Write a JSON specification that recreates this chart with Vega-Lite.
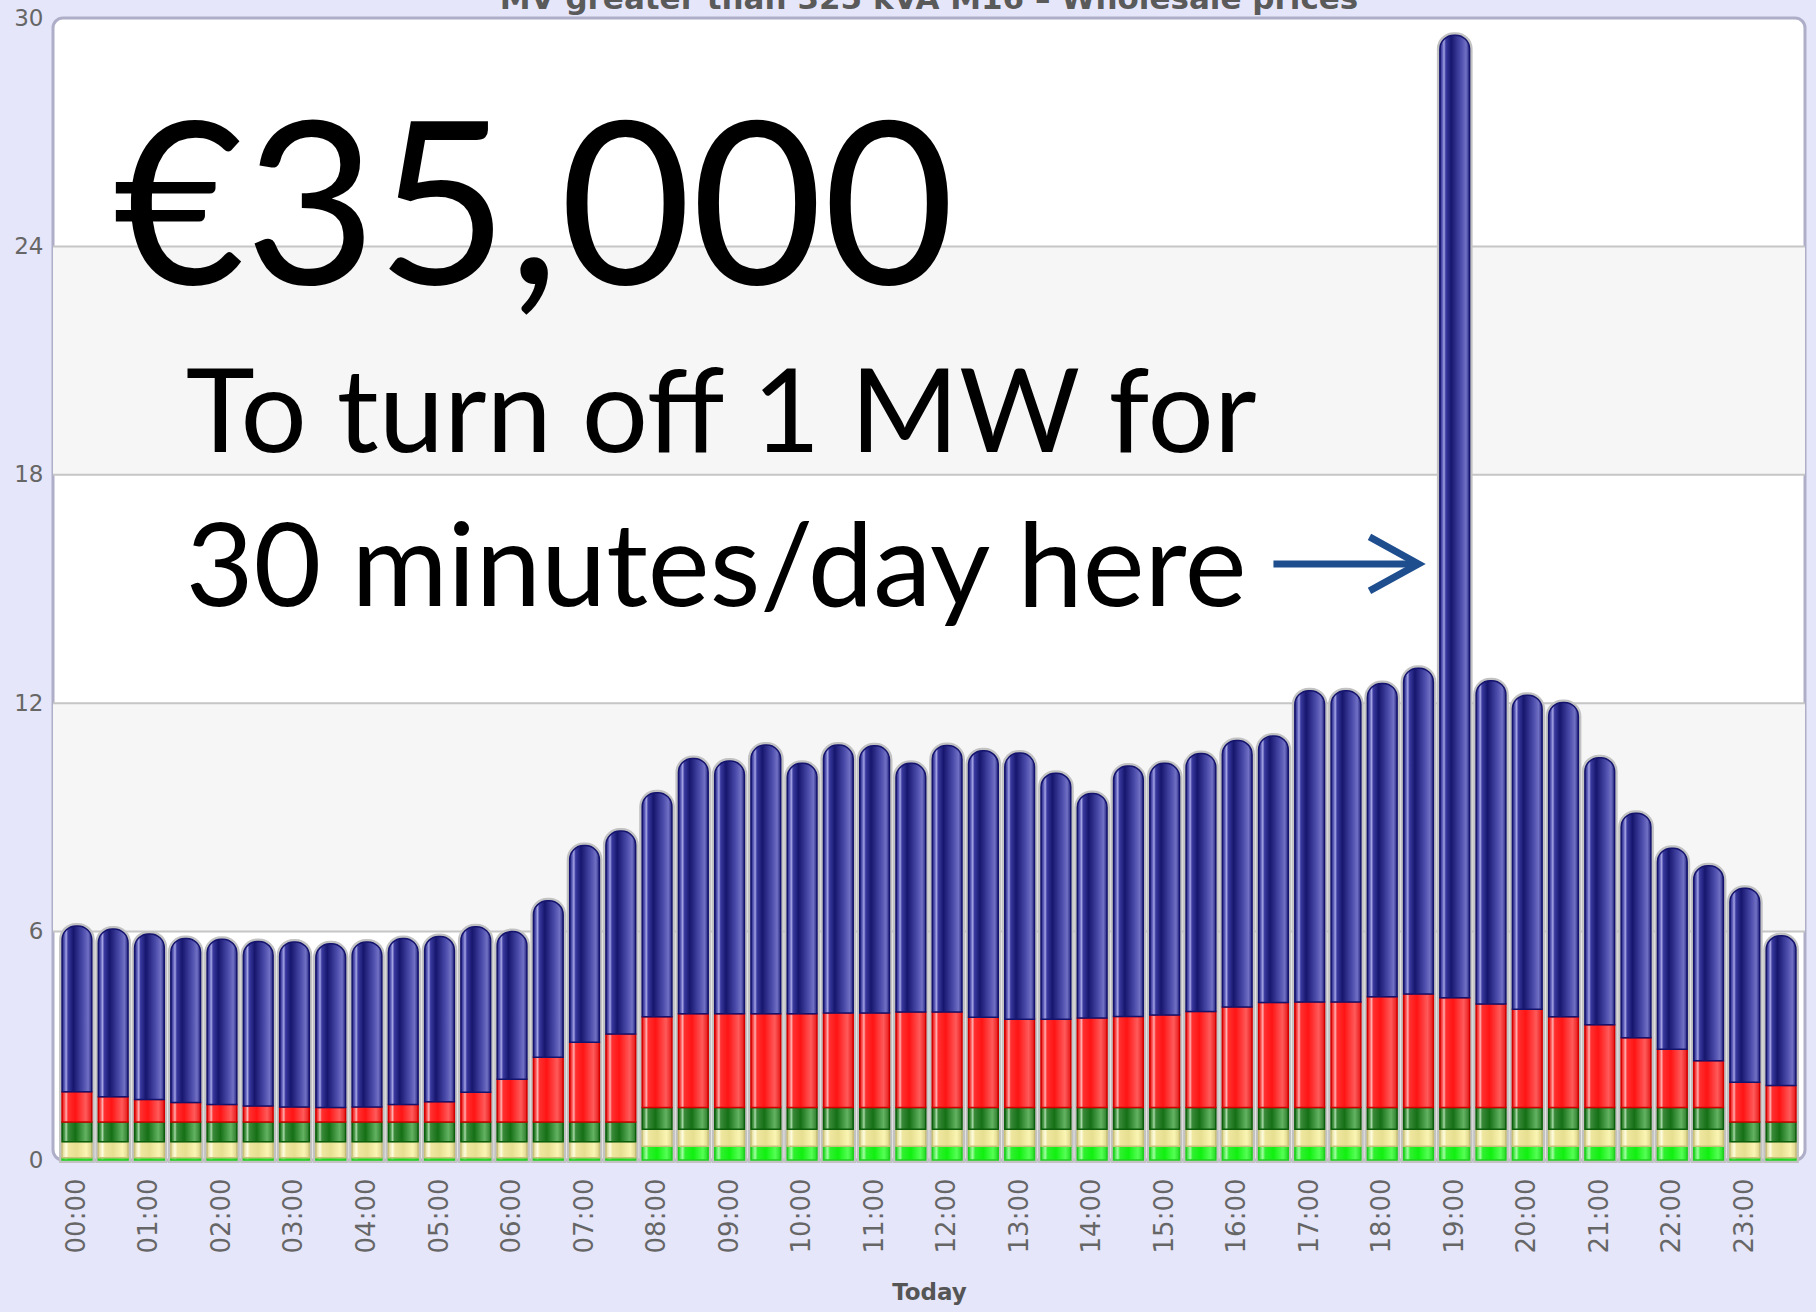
{
  "$schema": "https://vega.github.io/schema/vega-lite/v6.json",
  "autosize": {"type": "none"},
  "padding": {"left": 53, "top": 18, "right": 11, "bottom": 152},
  "width": 1752,
  "height": 1142,
  "background": "#e6e6fa",
  "config": {
    "view": {"fill": "white", "stroke": "#aeaec8", "strokeWidth": 3, "cornerRadius": 10},
    "axisX": {"labelAngle": -90, "labelFont": "DejaVu Sans", "labelFontSize": 26, "labelColor": "#666666", "labelPadding": 18, "ticks": false, "domain": false, "grid": false, "titleFont": "DejaVu Sans", "titleFontSize": 23, "titleFontWeight": "bold", "titleColor": "#555555", "titlePadding": 29},
    "axisY": {"labelFont": "DejaVu Sans", "labelFontSize": 23, "labelColor": "#666666", "labelPadding": 10, "ticks": false, "domain": false, "grid": false, "labelOverlap": false}
  },
  "datasets": {
    "bands": [{"lo": 6, "hi": 12}, {"lo": 18, "hi": 24}],
    "prices": [
      {"t": "00:00", "tier1": 0.06, "tier2": 0.42, "tier3": 0.52, "tier4": 0.79, "tier5": 4.36},
      {"t": "00:30", "tier1": 0.06, "tier2": 0.42, "tier3": 0.52, "tier4": 0.66, "tier5": 4.41},
      {"t": "01:00", "tier1": 0.06, "tier2": 0.42, "tier3": 0.52, "tier4": 0.59, "tier5": 4.35},
      {"t": "01:30", "tier1": 0.06, "tier2": 0.42, "tier3": 0.52, "tier4": 0.51, "tier5": 4.31},
      {"t": "02:00", "tier1": 0.06, "tier2": 0.42, "tier3": 0.52, "tier4": 0.46, "tier5": 4.34},
      {"t": "02:30", "tier1": 0.06, "tier2": 0.42, "tier3": 0.52, "tier4": 0.42, "tier5": 4.32},
      {"t": "03:00", "tier1": 0.06, "tier2": 0.42, "tier3": 0.52, "tier4": 0.39, "tier5": 4.34},
      {"t": "03:30", "tier1": 0.06, "tier2": 0.42, "tier3": 0.52, "tier4": 0.38, "tier5": 4.30},
      {"t": "04:00", "tier1": 0.06, "tier2": 0.42, "tier3": 0.52, "tier4": 0.39, "tier5": 4.34},
      {"t": "04:30", "tier1": 0.06, "tier2": 0.42, "tier3": 0.52, "tier4": 0.46, "tier5": 4.36},
      {"t": "05:00", "tier1": 0.06, "tier2": 0.42, "tier3": 0.52, "tier4": 0.53, "tier5": 4.34},
      {"t": "05:30", "tier1": 0.06, "tier2": 0.42, "tier3": 0.52, "tier4": 0.78, "tier5": 4.35},
      {"t": "06:00", "tier1": 0.06, "tier2": 0.42, "tier3": 0.52, "tier4": 1.12, "tier5": 3.88},
      {"t": "06:30", "tier1": 0.06, "tier2": 0.42, "tier3": 0.52, "tier4": 1.70, "tier5": 4.11},
      {"t": "07:00", "tier1": 0.06, "tier2": 0.42, "tier3": 0.52, "tier4": 2.09, "tier5": 5.17},
      {"t": "07:30", "tier1": 0.06, "tier2": 0.42, "tier3": 0.52, "tier4": 2.31, "tier5": 5.33},
      {"t": "08:00", "tier1": 0.36, "tier2": 0.45, "tier3": 0.57, "tier4": 2.38, "tier5": 5.89},
      {"t": "08:30", "tier1": 0.36, "tier2": 0.45, "tier3": 0.57, "tier4": 2.46, "tier5": 6.71},
      {"t": "09:00", "tier1": 0.36, "tier2": 0.45, "tier3": 0.57, "tier4": 2.46, "tier5": 6.64},
      {"t": "09:30", "tier1": 0.36, "tier2": 0.45, "tier3": 0.57, "tier4": 2.46, "tier5": 7.06},
      {"t": "10:00", "tier1": 0.36, "tier2": 0.45, "tier3": 0.57, "tier4": 2.46, "tier5": 6.58},
      {"t": "10:30", "tier1": 0.36, "tier2": 0.45, "tier3": 0.57, "tier4": 2.48, "tier5": 7.04},
      {"t": "11:00", "tier1": 0.36, "tier2": 0.45, "tier3": 0.57, "tier4": 2.48, "tier5": 7.02},
      {"t": "11:30", "tier1": 0.36, "tier2": 0.45, "tier3": 0.57, "tier4": 2.51, "tier5": 6.53},
      {"t": "12:00", "tier1": 0.36, "tier2": 0.45, "tier3": 0.57, "tier4": 2.51, "tier5": 7.00},
      {"t": "12:30", "tier1": 0.36, "tier2": 0.45, "tier3": 0.57, "tier4": 2.37, "tier5": 7.00},
      {"t": "13:00", "tier1": 0.36, "tier2": 0.45, "tier3": 0.57, "tier4": 2.32, "tier5": 6.99},
      {"t": "13:30", "tier1": 0.36, "tier2": 0.45, "tier3": 0.57, "tier4": 2.32, "tier5": 6.46},
      {"t": "14:00", "tier1": 0.36, "tier2": 0.45, "tier3": 0.57, "tier4": 2.35, "tier5": 5.90},
      {"t": "14:30", "tier1": 0.36, "tier2": 0.45, "tier3": 0.57, "tier4": 2.39, "tier5": 6.58},
      {"t": "15:00", "tier1": 0.36, "tier2": 0.45, "tier3": 0.57, "tier4": 2.43, "tier5": 6.61},
      {"t": "15:30", "tier1": 0.36, "tier2": 0.45, "tier3": 0.57, "tier4": 2.52, "tier5": 6.78},
      {"t": "16:00", "tier1": 0.36, "tier2": 0.45, "tier3": 0.57, "tier4": 2.64, "tier5": 7.00},
      {"t": "16:30", "tier1": 0.36, "tier2": 0.45, "tier3": 0.57, "tier4": 2.76, "tier5": 7.00},
      {"t": "17:00", "tier1": 0.36, "tier2": 0.45, "tier3": 0.57, "tier4": 2.77, "tier5": 8.18},
      {"t": "17:30", "tier1": 0.36, "tier2": 0.45, "tier3": 0.57, "tier4": 2.77, "tier5": 8.18},
      {"t": "18:00", "tier1": 0.36, "tier2": 0.45, "tier3": 0.57, "tier4": 2.91, "tier5": 8.23},
      {"t": "18:30", "tier1": 0.36, "tier2": 0.45, "tier3": 0.57, "tier4": 2.98, "tier5": 8.56},
      {"t": "19:00", "tier1": 0.36, "tier2": 0.45, "tier3": 0.57, "tier4": 2.88, "tier5": 25.29},
      {"t": "19:30", "tier1": 0.36, "tier2": 0.45, "tier3": 0.57, "tier4": 2.72, "tier5": 8.49},
      {"t": "20:00", "tier1": 0.36, "tier2": 0.45, "tier3": 0.57, "tier4": 2.58, "tier5": 8.25},
      {"t": "20:30", "tier1": 0.36, "tier2": 0.45, "tier3": 0.57, "tier4": 2.38, "tier5": 8.26},
      {"t": "21:00", "tier1": 0.36, "tier2": 0.45, "tier3": 0.57, "tier4": 2.17, "tier5": 7.02},
      {"t": "21:30", "tier1": 0.36, "tier2": 0.45, "tier3": 0.57, "tier4": 1.83, "tier5": 5.90},
      {"t": "22:00", "tier1": 0.36, "tier2": 0.45, "tier3": 0.57, "tier4": 1.53, "tier5": 5.28},
      {"t": "22:30", "tier1": 0.36, "tier2": 0.45, "tier3": 0.57, "tier4": 1.23, "tier5": 5.12},
      {"t": "23:00", "tier1": 0.06, "tier2": 0.42, "tier3": 0.52, "tier4": 1.04, "tier5": 5.10},
      {"t": "23:30", "tier1": 0.06, "tier2": 0.42, "tier3": 0.52, "tier4": 0.96, "tier5": 3.93}
    ]
  },
  "layer": [
    {
      "data": {"name": "bands"},
      "mark": {"type": "rect", "color": "#f6f6f6"},
      "encoding": {
        "y": {"field": "lo", "type": "quantitative", "scale": {"domain": [0, 30]}, "axis": {"values": [0, 6, 12, 18, 24, 30], "title": null}},
        "y2": {"field": "hi"}
      }
    },
    {
      "data": {"name": "bands"},
      "mark": {"type": "rule", "color": "#c6c6c6", "strokeWidth": 2},
      "encoding": {"y": {"field": "lo", "type": "quantitative", "axis": {"values": [0, 6, 12, 18, 24, 30], "title": null}}}
    },
    {
      "data": {"name": "bands"},
      "mark": {"type": "rule", "color": "#c6c6c6", "strokeWidth": 2},
      "encoding": {"y": {"field": "hi", "type": "quantitative", "axis": {"values": [0, 6, 12, 18, 24, 30], "title": null}}}
    },
    {
      "data": {"name": "prices"},
      "transform": [
        {"fold": ["tier1", "tier2", "tier3", "tier4", "tier5"], "as": ["s", "v"]},
        {"stack": "v", "groupby": ["t"], "sort": [{"field": "s", "order": "ascending"}], "as": ["v0", "v1"]}
      ],
      "encoding": {
        "x": {"field": "t", "type": "ordinal", "scale": {"paddingInner": 0.18, "paddingOuter": 0.25}, "axis": {"values": ["00:00","01:00","02:00","03:00","04:00","05:00","06:00","07:00","08:00","09:00","10:00","11:00","12:00","13:00","14:00","15:00","16:00","17:00","18:00","19:00","20:00","21:00","22:00","23:00"], "title": "Today"}},
        "y": {"field": "v1", "type": "quantitative", "axis": {"values": [0, 6, 12, 18, 24, 30], "title": null}},
        "y2": {"field": "v0"}
      },
      "layer": [
        {
          "transform": [{"filter": "datum.s === 'tier5'"}],
          "mark": {"type": "bar", "color": "#bdbdbd", "stroke": "#c2c2c2", "strokeWidth": 6, "cornerRadiusTopLeft": 14, "cornerRadiusTopRight": 14},
          "encoding": {"y2": {"datum": 0}}
        },
        {
          "transform": [{"filter": "datum.s === 'tier1'"}],
          "mark": {"type": "bar", "stroke": "#1fcf1f", "strokeWidth": 1.5, "fill": {"gradient": "linear", "x1": 0, "y1": 0, "x2": 1, "y2": 0, "stops": [{"offset": 0, "color": "#18d818"}, {"offset": 0.14, "color": "#a0ffa0"}, {"offset": 0.22, "color": "#30f030"}, {"offset": 0.5, "color": "#10f010"}, {"offset": 0.82, "color": "#55ff55"}, {"offset": 1, "color": "#22dd22"}]}}
        },
        {
          "transform": [{"filter": "datum.s === 'tier2'"}],
          "mark": {"type": "bar", "stroke": "#c9c07a", "strokeWidth": 1.5, "fill": {"gradient": "linear", "x1": 0, "y1": 0, "x2": 1, "y2": 0, "stops": [{"offset": 0, "color": "#dcd48a"}, {"offset": 0.14, "color": "#fffde0"}, {"offset": 0.22, "color": "#efe7a0"}, {"offset": 0.5, "color": "#e6de90"}, {"offset": 0.82, "color": "#fbf5b4"}, {"offset": 1, "color": "#dcd48a"}]}}
        },
        {
          "transform": [{"filter": "datum.s === 'tier3'"}],
          "mark": {"type": "bar", "stroke": "#0b5e0b", "strokeWidth": 1.5, "fill": {"gradient": "linear", "x1": 0, "y1": 0, "x2": 1, "y2": 0, "stops": [{"offset": 0, "color": "#1a6a1a"}, {"offset": 0.08, "color": "#4a9a4a"}, {"offset": 0.14, "color": "#a8d8a8"}, {"offset": 0.2, "color": "#3a8a3a"}, {"offset": 0.45, "color": "#157015"}, {"offset": 0.8, "color": "#62b262"}, {"offset": 1, "color": "#2a7a2a"}]}}
        },
        {
          "transform": [{"filter": "datum.s === 'tier4'"}],
          "mark": {"type": "bar", "stroke": "#d40000", "strokeWidth": 1.5, "fill": {"gradient": "linear", "x1": 0, "y1": 0, "x2": 1, "y2": 0, "stops": [{"offset": 0, "color": "#e01010"}, {"offset": 0.08, "color": "#ff5050"}, {"offset": 0.14, "color": "#ffb0b0"}, {"offset": 0.2, "color": "#ff3030"}, {"offset": 0.45, "color": "#ff1414"}, {"offset": 0.8, "color": "#ff5a5a"}, {"offset": 1, "color": "#e81818"}]}}
        },
        {
          "transform": [{"filter": "datum.s === 'tier5'"}],
          "mark": {"type": "bar", "stroke": "#14146e", "strokeWidth": 1.5, "cornerRadiusTopLeft": 14, "cornerRadiusTopRight": 14, "fill": {"gradient": "linear", "x1": 0, "y1": 0, "x2": 1, "y2": 0, "stops": [{"offset": 0, "color": "#20207a"}, {"offset": 0.08, "color": "#5a5ab8"}, {"offset": 0.14, "color": "#a4a4e4"}, {"offset": 0.2, "color": "#3a3aa0"}, {"offset": 0.38, "color": "#16166e"}, {"offset": 0.7, "color": "#4a4aaa"}, {"offset": 0.88, "color": "#7070c4"}, {"offset": 1, "color": "#262680"}]}}
        }
      ]
    },
    {
      "data": {"values": [{"v": 30.24, "label": "MV greater than 325 kVA M16 – Wholesale prices"}]},
      "mark": {"type": "text", "align": "center", "baseline": "alphabetic", "font": "DejaVu Sans", "fontSize": 31, "fontWeight": "bold", "color": "#5a5a5a"},
      "encoding": {
        "y": {"field": "v", "type": "quantitative", "axis": {"values": [0, 6, 12, 18, 24, 30], "title": null}},
        "text": {"field": "label"}
      }
    },
    {
      "data": {"values": [{"t": "00:30", "v": 23.0, "label": "€35,000"}]},
      "mark": {"type": "text", "align": "left", "baseline": "alphabetic", "font": "Lato", "fontSize": 227, "color": "#000000"},
      "encoding": {
        "x": {"field": "t", "type": "ordinal", "axis": {"values": ["00:00","01:00","02:00","03:00","04:00","05:00","06:00","07:00","08:00","09:00","10:00","11:00","12:00","13:00","14:00","15:00","16:00","17:00","18:00","19:00","20:00","21:00","22:00","23:00"], "title": "Today"}},
        "y": {"field": "v", "type": "quantitative", "axis": {"values": [0, 6, 12, 18, 24, 30], "title": null}},
        "text": {"field": "label"}
      }
    },
    {
      "data": {"values": [{"t": "01:30", "v": 18.6, "label": "To turn off 1 MW for"}, {"t": "01:30", "v": 14.56, "label": "30 minutes/day here"}]},
      "mark": {"type": "text", "align": "left", "baseline": "alphabetic", "font": "Lato", "fontSize": 117, "color": "#000000"},
      "encoding": {
        "x": {"field": "t", "type": "ordinal", "axis": {"values": ["00:00","01:00","02:00","03:00","04:00","05:00","06:00","07:00","08:00","09:00","10:00","11:00","12:00","13:00","14:00","15:00","16:00","17:00","18:00","19:00","20:00","21:00","22:00","23:00"], "title": "Today"}},
        "y": {"field": "v", "type": "quantitative", "axis": {"values": [0, 6, 12, 18, 24, 30], "title": null}},
        "text": {"field": "label"}
      }
    },
    {
      "data": {"values": [{"t": "16:30", "t2": "18:30", "v": 15.66}]},
      "layer": [
        {
          "mark": {"type": "rule", "color": "#1f4e8f", "strokeWidth": 7},
          "encoding": {
            "x": {"field": "t", "type": "ordinal", "axis": {"values": ["00:00","01:00","02:00","03:00","04:00","05:00","06:00","07:00","08:00","09:00","10:00","11:00","12:00","13:00","14:00","15:00","16:00","17:00","18:00","19:00","20:00","21:00","22:00","23:00"], "title": "Today"}},
            "x2": {"field": "t2"},
            "y": {"field": "v", "type": "quantitative", "axis": {"values": [0, 6, 12, 18, 24, 30], "title": null}}
          }
        },
        {
          "mark": {"type": "point", "shape": "M-1,-0.55L0,0L-1,0.55", "size": 9604, "filled": false, "color": "#1f4e8f", "strokeWidth": 7, "opacity": 1, "strokeJoin": "miter"},
          "encoding": {
            "x": {"field": "t2", "type": "ordinal", "axis": {"values": ["00:00","01:00","02:00","03:00","04:00","05:00","06:00","07:00","08:00","09:00","10:00","11:00","12:00","13:00","14:00","15:00","16:00","17:00","18:00","19:00","20:00","21:00","22:00","23:00"], "title": "Today"}},
            "y": {"field": "v", "type": "quantitative", "axis": {"values": [0, 6, 12, 18, 24, 30], "title": null}}
          }
        }
      ]
    }
  ]
}
